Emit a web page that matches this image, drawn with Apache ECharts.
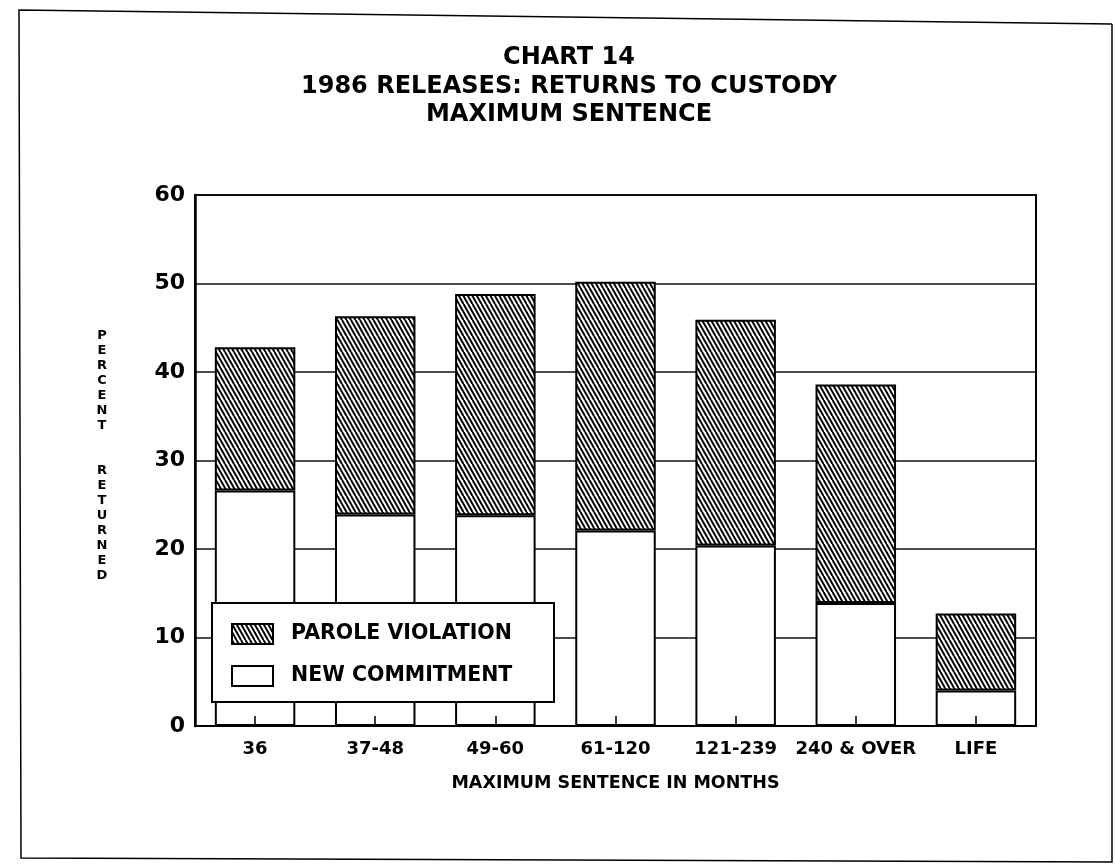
<!DOCTYPE html>
<html><head><meta charset="utf-8">
<script src="https://cdn.jsdelivr.net/npm/echarts@6/dist/echarts.min.js"></script>
<style>html,body{margin:0;padding:0;background:#fff}#c{width:1115px;height:867px}</style>
</head><body><div id="c"></div>
<script>
// ---- data ----
const categories = ['36', '37-48', '49-60', '61-120', '121-239', '240 & OVER', 'LIFE'];
const newCommitment = [26.6, 23.9, 23.8, 22.1, 20.4, 13.9, 4.0];
const paroleViolation = [16.2, 22.4, 25.0, 28.1, 25.5, 24.7, 8.7];
const yMin = 0, yMax = 60, yStep = 10;
const seriesNames = ['PAROLE VIOLATION', 'NEW COMMITMENT'];
const titleLines = ['CHART 14', '1986 RELEASES: RETURNS TO CUSTODY', 'MAXIMUM SENTENCE'];
const xAxisTitle = 'MAXIMUM SENTENCE IN MONTHS';
const yAxisTitle = 'PERCENT RETURNED';

// ---- hatch pattern ----
function hatch() {
  const c = document.createElement('canvas');
  c.width = 9; c.height = 16;
  const g = c.getContext('2d');
  g.fillStyle = '#fff'; g.fillRect(0, 0, 9, 16);
  g.strokeStyle = '#000'; g.lineWidth = 2;
  for (let k = -4; k <= 4; k++) {
    const x0 = k * 4.5;
    g.beginPath(); g.moveTo(x0, 0); g.lineTo(x0 + 9, 16); g.stroke();
  }
  return c;
}
const hatchFill = { image: hatch(), repeat: 'repeat' };

const FONT = 'DejaVu Sans';
const chart = echarts.init(document.getElementById('c'), null, { renderer: 'canvas' });

const yNameText = yAxisTitle.split('').map(ch => ch === ' ' ? ' \n ' : ch).join('\n');

chart.setOption({
  animation: false,
  backgroundColor: '#fff',
  grid: { left: 195, top: 195, right: 79, bottom: 141, show: true, borderColor: '#000', borderWidth: 2 },
  xAxis: {
    type: 'category',
    data: categories,
    z: 3,
    axisLine: { lineStyle: { color: '#000', width: 2 } },
    axisTick: { show: true, inside: true, length: 10, alignWithLabel: true, lineStyle: { color: '#000', width: 1.5 } },
    axisLabel: { color: '#000', fontFamily: FONT, fontWeight: 'bold', fontSize: 18, margin: 14, interval: 0 },
    name: xAxisTitle,
    nameLocation: 'middle',
    nameGap: 48,
    nameTextStyle: { color: '#000', fontFamily: FONT, fontWeight: 'bold', fontSize: 17.5 }
  },
  yAxis: {
    type: 'value',
    min: yMin, max: yMax, interval: yStep,
    axisLine: { show: true, lineStyle: { color: '#000', width: 2.5 } },
    axisTick: { show: false },
    splitLine: { show: true, lineStyle: { color: '#111', width: 1.5 } },
    axisLabel: { color: '#000', fontFamily: FONT, fontWeight: 'bold', fontSize: 22, margin: 10 }
  },
  legend: {
    data: seriesNames,
    orient: 'vertical',
    left: 231, top: 623,
    padding: 0,
    itemWidth: 41, itemHeight: 20, itemGap: 20,
    icon: 'rect',
    z: 10,
    textStyle: { color: '#000', fontFamily: FONT, fontWeight: 'bold', fontSize: 20.5, padding: [0, 0, 0, 13] }
  },
  series: [
    {
      name: seriesNames[1], type: 'bar', stack: 'total', data: newCommitment,
      barCategoryGap: '33%',
      itemStyle: { color: '#fff', borderColor: '#000', borderWidth: 2 }
    },
    {
      name: seriesNames[0], type: 'bar', stack: 'total', data: paroleViolation,
      barCategoryGap: '33%',
      itemStyle: { color: hatchFill, borderColor: '#000', borderWidth: 2 }
    }
  ],
  graphic: [
    { type: 'rect', z: 5, shape: { x: 212, y: 603, width: 342, height: 99 },
      style: { fill: '#fff', stroke: '#000', lineWidth: 2 } },
    { type: 'text', x: 569, y: 58, style: { text: titleLines[0], fill: '#000', font: 'bold 24px "DejaVu Sans"', textAlign: 'center', textVerticalAlign: 'middle' } },
    { type: 'text', x: 569, y: 87, style: { text: titleLines[1], fill: '#000', font: 'bold 24px "DejaVu Sans"', textAlign: 'center', textVerticalAlign: 'middle' } },
    { type: 'text', x: 569, y: 115, style: { text: titleLines[2], fill: '#000', font: 'bold 24px "DejaVu Sans"', textAlign: 'center', textVerticalAlign: 'middle' } },
    { type: 'text', x: 102, y: 456, style: { text: yNameText, fill: '#000', font: 'bold 13px "DejaVu Sans"', lineHeight: 15, textAlign: 'center', textVerticalAlign: 'middle' } },
    { type: 'polyline', z: 1, shape: { points: [[1112, 24], [19, 10], [21, 858], [1112, 862], [1112, 24]] },
      style: { fill: null, stroke: '#000', lineWidth: 1.5 } }
  ]
});
</script>
</body></html>
